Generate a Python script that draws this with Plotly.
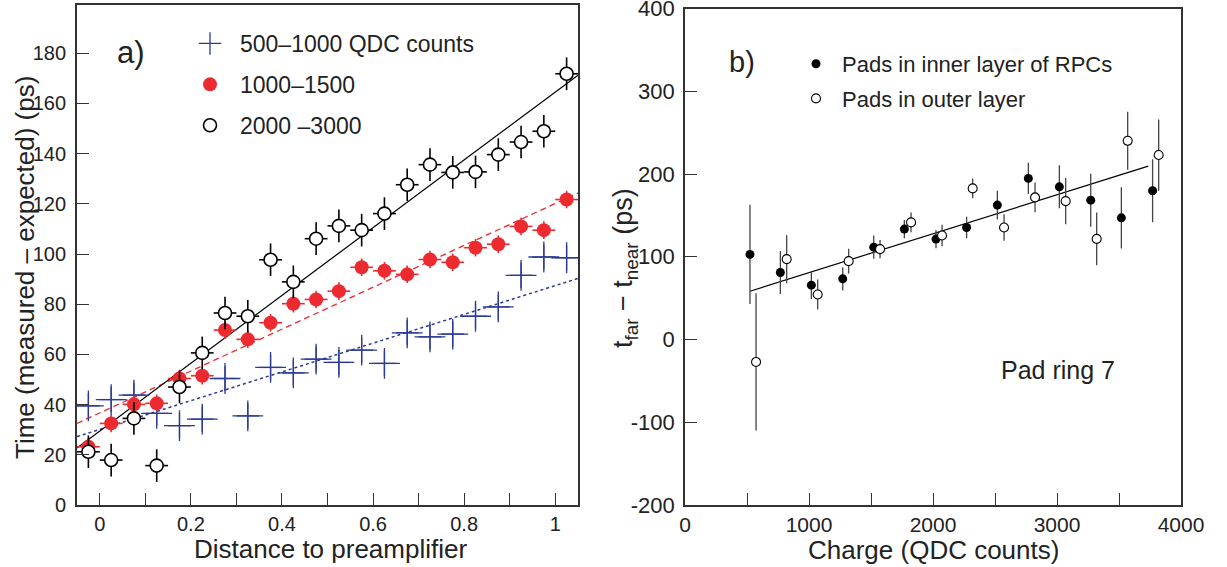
import plotly.graph_objects as go

# ---------------- data: panel a ----------------
dist = [-0.025, 0.025, 0.075, 0.125, 0.175, 0.225, 0.275, 0.325, 0.375, 0.425, 0.475,
        0.525, 0.575, 0.625, 0.675, 0.725, 0.775, 0.825, 0.875, 0.925, 0.975, 1.025]
dist_halfwidth = [0.025] * 22

blue_y = [39.5, 42.0, 43.8, 36.5, 31.6, 34.2, 50.4, 35.5, 54.8, 52.6, 58.1,
          56.8, 61.7, 56.4, 68.6, 67.0, 68.1, 75.2, 78.9, 91.5, 98.8, 98.5]
blue_err = [5] * 22
red_y = [23.2, 32.5, 40.1, 40.5, 50.4, 51.5, 69.7, 66.0, 72.6, 80.2, 81.9,
         85.2, 94.7, 93.3, 91.9, 97.8, 96.7, 102.5, 103.9, 111.0, 109.5, 121.7]
red_err = [3.5] * 22
black_y = [21.2, 17.9, 34.5, 15.7, 47.0, 60.6, 76.5, 75.2, 97.7, 88.9, 106.1,
           111.2, 109.5, 116.1, 127.6, 135.6, 132.5, 132.7, 139.6, 144.6, 148.9, 171.8]
black_err = [6.5] * 22

fit_a_x = [-0.05, 1.05]
blue_fit = (30.1, 57.3)    # intercept, slope
red_fit = (36.7, 83.4)
black_fit = (29.5, 135.0)

# ---------------- data: panel b ----------------
inner_x = [524, 769, 1019, 1272, 1522, 1769, 2024, 2271, 2519, 2769, 3019, 3272, 3519, 3771]
inner_y = [102.8, 81, 65.7, 73.3, 111.6, 133.4, 121.3, 135.4, 162.4, 194.7, 184.5, 168.4, 147, 179.7]
inner_err = [60, 26, 17, 14, 14, 11, 11, 13, 17.5, 19, 26, 32, 37, 38]
outer_x = [573, 820, 1070, 1320, 1573, 1823, 2073, 2320, 2573, 2823, 3070, 3320, 3570, 3820]
outer_y = [-27.1, 97.1, 54.4, 94.7, 109.2, 141.5, 125.7, 182.6, 135.4, 171.7, 167.2, 121.6, 240.1, 222.9]
outer_err = [83, 29, 18, 15, 11, 12, 13, 12, 16, 18, 28, 32, 35, 43]
fit_b_x = [524, 3736]
b_fit = (33.7, 0.04707)

a_xticks = [0, 0.2, 0.4, 0.6, 0.8, 1]
a_xticklabels = ["0", "0.2", "0.4", "0.6", "0.8", "1"]
b_xticks = [0, 1000, 2000, 3000, 4000]
b_xticklabels = ["0", "1000", "2000", "3000", "4000"]
b_yticks = [-200, -100, 0, 100, 200, 300, 400]
b_yticklabels = ["-200", "-100", "0", "100", "200", "300", "400"]

FONT = "Liberation Sans, Arial, sans-serif"
BLUE = "#2b3a94"
RED = "#ec2a2f"
AX = "#333333"
TXT = "#222222"
W, H = 1227, 567

fig = go.Figure()


def line_vals(p, xs):
    return [p[0] + p[1] * x for x in xs]


# fit lines panel a
fig.add_trace(go.Scatter(x=fit_a_x, y=line_vals(blue_fit, fit_a_x), mode="lines",
                         line=dict(color=BLUE, width=1.5, dash="dot"), showlegend=False,
                         xaxis="x", yaxis="y"))
fig.add_trace(go.Scatter(x=fit_a_x, y=line_vals(red_fit, fit_a_x), mode="lines",
                         line=dict(color=RED, width=1.3, dash="6px,4px"), showlegend=False,
                         xaxis="x", yaxis="y"))
fig.add_trace(go.Scatter(x=fit_a_x, y=line_vals(black_fit, fit_a_x), mode="lines",
                         line=dict(color="black", width=1.2), showlegend=False,
                         xaxis="x", yaxis="y"))

fig.add_trace(go.Scatter(
    x=dist, y=blue_y, mode="markers", name="500\u20131000 QDC counts",
    marker=dict(symbol="cross-thin", size=22, color=BLUE, line=dict(color=BLUE, width=1.3)),
    error_x=dict(type="data", array=dist_halfwidth, color=BLUE, thickness=1.3, width=0),
    error_y=dict(type="data", array=blue_err, color=BLUE, thickness=1.3, width=0),
    legend="legend", legendgroup="g1", xaxis="x", yaxis="y"))
fig.add_trace(go.Scatter(
    x=dist, y=red_y, mode="markers", name="1000\u20131500",
    marker=dict(symbol="circle", size=14, color=RED),
    error_x=dict(type="data", array=dist_halfwidth, color=RED, thickness=1.6, width=0),
    error_y=dict(type="data", array=red_err, color=RED, thickness=1.6, width=0),
    legend="legend", legendgroup="g2", xaxis="x", yaxis="y"))
fig.add_trace(go.Scatter(
    x=dist, y=black_y, mode="markers", name="2000 \u20133000",
    marker=dict(symbol="circle", size=13, color="white", line=dict(color="black", width=1.6)),
    error_x=dict(type="data", array=dist_halfwidth, color="black", thickness=1.6, width=0),
    error_y=dict(type="data", array=black_err, color="black", thickness=1.6, width=0),
    legend="legend", legendgroup="g3", xaxis="x", yaxis="y"))

# panel b
fig.add_trace(go.Scatter(x=fit_b_x, y=line_vals(b_fit, fit_b_x), mode="lines",
                         line=dict(color="black", width=1.2), showlegend=False,
                         xaxis="x2", yaxis="y2"))
fig.add_trace(go.Scatter(
    x=inner_x, y=inner_y, mode="markers", name="Pads in inner layer of RPCs",
    marker=dict(symbol="circle", size=9, color="black"),
    error_y=dict(type="data", array=inner_err, color="#444", thickness=1.3, width=0),
    legend="legend2", legendgroup="h1", xaxis="x2", yaxis="y2"))
fig.add_trace(go.Scatter(
    x=outer_x, y=outer_y, mode="markers", name="Pads in outer layer",
    marker=dict(symbol="circle", size=9, color="white", line=dict(color="black", width=1.1)),
    error_y=dict(type="data", array=outer_err, color="#444", thickness=1.3, width=0),
    legend="legend2", legendgroup="h2", xaxis="x2", yaxis="y2"))

ax_common = dict(showgrid=False, zeroline=False, showline=True, linecolor=AX, linewidth=1.8,
                 mirror=True, ticks="inside", tickcolor=AX, tickwidth=1.3, ticklen=12,
                 ticklabeloverflow="allow", automargin=False)
minor_common = dict(ticks="inside", ticklen=12, tickcolor=AX, tickwidth=1.3)

fig.update_layout(
    width=W, height=H, margin=dict(l=0, r=0, t=0, b=0, autoexpand=False),
    paper_bgcolor="white", plot_bgcolor="white",
    font=dict(family=FONT, color=TXT),
    xaxis=dict(domain=[77 / W, 578 / W], range=[-0.05, 1.05], anchor="y",
               tickvals=a_xticks, ticktext=a_xticklabels,
               minor=dict(dtick=0.1, tick0=0, **minor_common),
               ticklabelstandoff=0, tickfont=dict(family=FONT, size=20, color=TXT),
               **ax_common),
    yaxis=dict(domain=[62 / H, 562 / H], range=[0, 199.2], anchor="x", dtick=20,
               ticklabelstandoff=5, tickfont=dict(family=FONT, size=20, color=TXT),
               **ax_common),
    xaxis2=dict(domain=[685 / W, 1181 / W], range=[0, 4000], anchor="y2",
                tickvals=b_xticks, ticktext=b_xticklabels,
                minor=dict(dtick=500, tick0=0, **minor_common),
                ticklabelstandoff=0, tickfont=dict(family=FONT, size=21, color=TXT),
                **ax_common),
    yaxis2=dict(domain=[62 / H, 558.5 / H], range=[-200, 400], anchor="x2",
                tickvals=b_yticks, ticktext=b_yticklabels, ticklabelstandoff=4,
                tickfont=dict(family=FONT, size=22, color=TXT),
                **ax_common),
    legend=dict(x=180 / W, y=1 - 22 / H, xanchor="left", yanchor="top",
                bgcolor="rgba(0,0,0,0)", font=dict(family=FONT, size=23, color=TXT),
                tracegroupgap=8, itemwidth=50),
    legend2=dict(x=790 / W, y=1 - 43 / H, xanchor="left", yanchor="top",
                 bgcolor="rgba(0,0,0,0)", font=dict(family=FONT, size=22, color=TXT),
                 tracegroupgap=3, itemwidth=42),
    annotations=[
        dict(text="a)", x=131 / W, y=1 - 53 / H, xref="paper", yref="paper", showarrow=False,
             xanchor="center", yanchor="middle", font=dict(family=FONT, size=31, color=TXT)),
        dict(text="b)", x=742 / W, y=1 - 62 / H, xref="paper", yref="paper", showarrow=False,
             xanchor="center", yanchor="middle", font=dict(family=FONT, size=29, color=TXT)),
        dict(text="Pad ring 7", x=1058 / W, y=1 - 370 / H, xref="paper", yref="paper",
             showarrow=False, xanchor="center", yanchor="middle",
             font=dict(family=FONT, size=25, color=TXT)),
        dict(text="Distance to preamplifier", x=330 / W, y=1 - 549 / H, xref="paper", yref="paper",
             showarrow=False, xanchor="center", yanchor="middle",
             font=dict(family=FONT, size=26, color=TXT)),
        dict(text="Charge (QDC counts)", x=933 / W, y=1 - 550 / H, xref="paper", yref="paper",
             showarrow=False, xanchor="center", yanchor="middle",
             font=dict(family=FONT, size=26, color=TXT)),
        dict(text="Time (measured \u2013 expected) (ps)", x=25 / W, y=1 - 268 / H,
             xref="paper", yref="paper", showarrow=False, textangle=-90,
             xanchor="center", yanchor="middle", font=dict(family=FONT, size=26, color=TXT)),
        dict(text="t<sub>far</sub> \u2212 t<sub>near</sub> (ps)", x=625 / W, y=1 - 268 / H,
             xref="paper", yref="paper", showarrow=False, textangle=-90,
             xanchor="center", yanchor="middle", font=dict(family=FONT, size=27, color=TXT)),
    ],
)

fig.write_html("out.html")
